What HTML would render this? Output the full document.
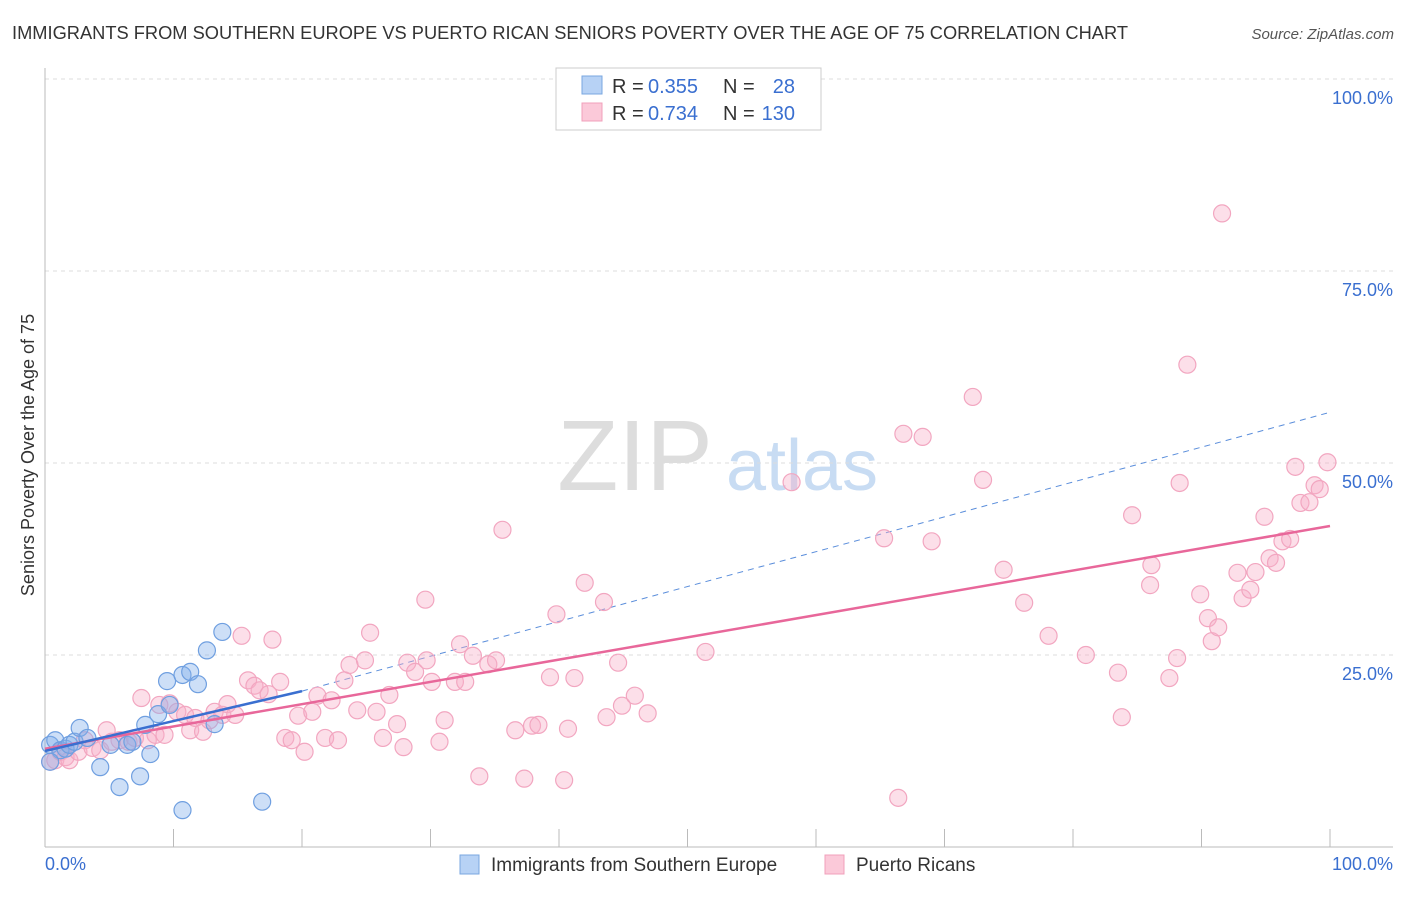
<!DOCTYPE html>
<html><head><meta charset="utf-8"><style>
body{margin:0;background:#fff;font-family:"Liberation Sans",sans-serif;}
svg text{font-family:"Liberation Sans",sans-serif;}
</style></head><body>
<svg id="chart" width="1406" height="892" xmlns="http://www.w3.org/2000/svg">
<text x="12" y="39" font-size="18" fill="#333" textLength="1116" lengthAdjust="spacingAndGlyphs">IMMIGRANTS FROM SOUTHERN EUROPE VS PUERTO RICAN SENIORS POVERTY OVER THE AGE OF 75 CORRELATION CHART</text>
<text x="1394" y="39" font-size="15" fill="#555" font-style="italic" text-anchor="end">Source: ZipAtlas.com</text>
<g>
<text x="635" y="490" font-size="100" fill="#ddd" font-family="Liberation Serif,serif" text-anchor="middle">ZIP</text>
<text x="802" y="490" font-size="72" fill="#c8dcf3" text-anchor="middle">atlas</text>
</g>
<g id="grid"></g>
<g id="axes"></g>
<g id="lines"></g>
<g id="points"></g>
<text transform="translate(34,455) rotate(-90)" font-size="18" fill="#333" text-anchor="middle">Seniors Poverty Over the Age of 75</text>
<g>
<rect x="556" y="68" width="265" height="62" fill="#fff" stroke="#ccc"/>
<rect x="582" y="76" width="20" height="18" fill="#b7d2f5" stroke="#7aa7e0"/>
<rect x="582" y="103" width="20" height="18" fill="#fbc9d9" stroke="#f0a0bb"/>
<text x="612" y="93" font-size="20" fill="#333">R =</text>
<text x="648" y="93" font-size="20" fill="#3a6fd0">0.355</text>
<text x="723" y="93" font-size="20" fill="#333">N =</text>
<text x="795" y="93" font-size="20" fill="#3a6fd0" text-anchor="end">28</text>
<text x="612" y="120" font-size="20" fill="#333">R =</text>
<text x="648" y="120" font-size="20" fill="#3a6fd0">0.734</text>
<text x="723" y="120" font-size="20" fill="#333">N =</text>
<text x="795" y="120" font-size="20" fill="#3a6fd0" text-anchor="end">130</text>
</g>
<g>
<rect x="460" y="855" width="19" height="19" fill="#b7d2f5" stroke="#7aa7e0"/>
<text x="491" y="871" font-size="19" fill="#333">Immigrants from Southern Europe</text>
<rect x="825" y="855" width="19" height="19" fill="#fbc9d9" stroke="#f0a0bb"/>
<text x="856" y="871" font-size="19" fill="#333">Puerto Ricans</text>
</g>
</svg>
<script>
const blueX=[0.4,0.8,1.2,1.6,1.9,2.3,2.7,3.3,4.3,5.1,5.8,6.4,6.8,7.4,7.8,8.2,8.8,9.5,9.7,10.7,10.7,11.3,11.9,12.6,13.2,13.8,16.9,0.4];
const blueY=[13.3,13.9,12.6,12.8,13.3,13.7,15.5,14.2,10.4,13.3,7.8,13.3,13.7,9.2,15.9,12.1,17.3,21.6,18.5,4.8,22.4,22.8,21.2,25.6,16.0,28.0,5.9,11.1];
const pinkX=[0.4,0.8,1.2,1.6,1.9,2.6,3.1,3.7,4.3,4.8,5.2,5.8,6.5,7.0,7.5,8.0,8.6,8.9,9.3,9.7,10.3,10.9,11.3,11.7,12.3,12.8,13.2,13.8,14.2,14.8,15.3,15.8,16.3,16.7,17.4,17.7,18.3,18.7,19.2,19.7,20.2,20.8,21.2,21.8,22.3,22.8,23.3,23.7,24.3,24.9,25.3,25.8,26.3,26.8,27.4,27.9,28.2,28.8,29.6,29.7,30.1,30.7,31.1,31.9,32.3,32.7,33.3,33.8,34.5,35.1,35.6,36.6,37.3,37.9,38.4,39.3,39.8,40.4,40.7,41.2,42.0,43.5,43.7,44.6,44.9,45.9,46.9,51.4,58.1,65.3,66.4,66.8,68.3,69.0,72.2,73.0,74.6,76.2,78.1,81.0,83.5,83.8,84.6,86.0,86.1,87.5,88.1,88.3,88.9,89.9,90.5,90.8,91.3,91.6,92.8,93.2,93.8,94.2,94.9,95.3,95.8,96.3,96.9,97.3,97.7,98.4,98.8,99.2,99.8];
const pinkY=[11.1,11.3,12.4,11.7,11.3,12.4,13.9,12.9,12.6,15.2,13.7,13.9,13.7,14.2,19.4,13.9,14.6,18.5,14.6,18.7,17.6,17.2,15.2,16.8,15.0,16.5,17.6,17.2,18.6,17.2,27.5,21.7,21.0,20.4,19.9,27.0,21.5,14.2,13.9,17.1,12.4,17.6,19.7,14.2,19.1,13.9,21.7,23.7,17.8,24.3,27.9,17.6,14.2,19.8,16.0,13.0,24.0,22.8,32.2,24.3,21.5,13.7,16.5,21.5,26.4,21.5,24.9,9.2,23.8,24.3,41.3,15.2,8.9,15.8,15.9,22.1,30.3,8.7,15.4,22.0,34.4,31.9,16.9,24.0,18.4,19.7,17.4,25.4,47.5,40.2,6.4,53.8,53.4,39.8,58.6,47.8,36.1,31.8,27.5,25.0,22.7,16.9,43.2,34.1,36.7,22.0,24.6,47.4,62.8,32.9,29.8,26.8,28.6,82.5,35.7,32.4,33.5,35.8,43.0,37.6,37.0,39.8,40.1,49.5,44.8,44.9,47.1,46.6,50.1];
const blueFit=[12.5,20.3,56.6];
const pinkFit=[12.8,41.8];
const yTicks=[25,50,75,100];
const xTickLabels=["0.0%","100.0%"];

const NS="http://www.w3.org/2000/svg";
const X=v=>45+v*12.85, Y=v=>847-v*7.68;
function mk(tag,attrs,parent){const e=document.createElementNS(NS,tag);for(const k in attrs)e.setAttribute(k,attrs[k]);parent.appendChild(e);return e;}
const grid=document.getElementById('grid'),axes=document.getElementById('axes'),lines=document.getElementById('lines'),pts=document.getElementById('points');
yTicks.forEach(t=>{
  const l=mk('line',{x1:45,x2:1393,y1:Y(t),y2:Y(t),stroke:'#ddd','stroke-dasharray':'4,4'},grid);
  
  
  const tx=mk('text',{x:1393,y:Y(t)+25,'font-size':18,fill:'#3a6fd0','text-anchor':'end'},grid);
  tx.textContent=t.toFixed(1)+'%';
  
  
});
let a=mk('line',{x1:45,x2:45,y1:68,y2:847,stroke:'#bbb'},axes);


a=mk('line',{x1:45,x2:1393,y1:847,y2:847,stroke:'#bbb'},axes);


for(let i=0;i<=10;i++){
  const t=mk('line',{x1:X(i*10),x2:X(i*10),y1:829,y2:847,stroke:'#bbb'},axes);
  
  
}
let xl=mk('text',{x:45,y:870,'font-size':18,fill:'#3a6fd0'},axes);xl.textContent=xTickLabels[0];


xl=mk('text',{x:1393,y:870,'font-size':18,fill:'#3a6fd0','text-anchor':'end'},axes);xl.textContent=xTickLabels[1];



pinkX.forEach((v,i)=>{
  const c=mk('circle',{cx:X(v),cy:Y(pinkY[i]),r:8.5,fill:'rgba(248,175,200,0.4)',stroke:'#f2a6c0','stroke-width':1.2},pts);
  
  
});
blueX.forEach((v,i)=>{
  const c=mk('circle',{cx:X(v),cy:Y(blueY[i]),r:8.5,fill:'rgba(130,175,235,0.4)',stroke:'#6f9fe0','stroke-width':1.2},pts);
  
  
});
let ln=mk('line',{x1:X(20),y1:Y(blueFit[1]),x2:X(100),y2:Y(blueFit[2]),stroke:'#5b8edb','stroke-width':1,'stroke-dasharray':'6,5'},lines);


ln=mk('line',{x1:X(0),y1:Y(pinkFit[0]),x2:X(100),y2:Y(pinkFit[1]),stroke:'#e8679a','stroke-width':2.5},pts);


ln=mk('line',{x1:X(0),y1:Y(blueFit[0]),x2:X(20),y2:Y(blueFit[1]),stroke:'#3a6fd0','stroke-width':2.5},pts);


</script>
</body></html>
